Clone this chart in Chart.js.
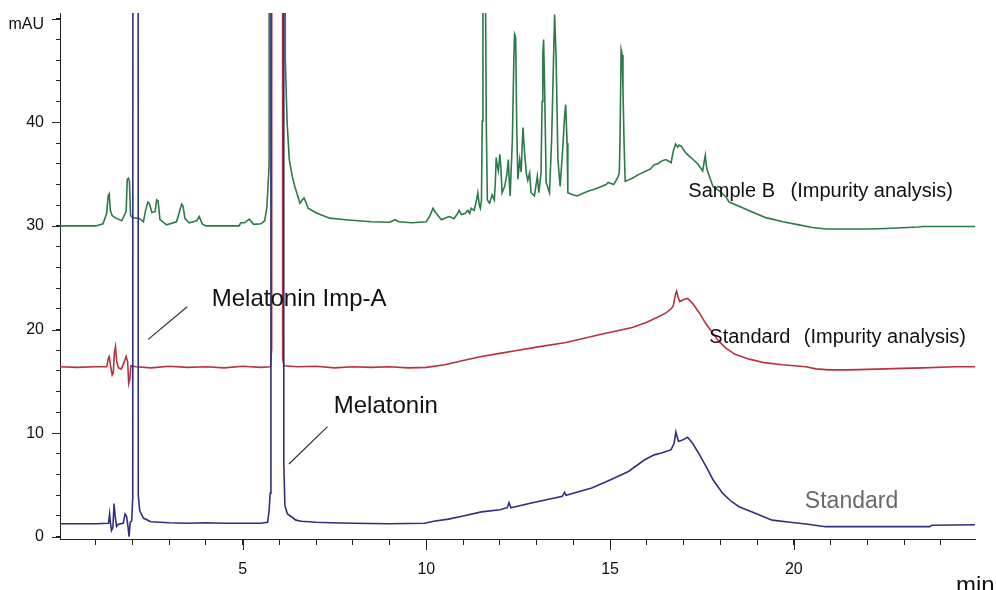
<!DOCTYPE html>
<html><head><meta charset="utf-8">
<script src="https://cdn.jsdelivr.net/npm/chart.js@4"></script>
<style>html,body{margin:0;padding:0;background:#fff;}canvas{display:block;}</style>
</head><body>
<canvas id="c" width="996" height="590" style="width:996px;height:590px"></canvas>
<script>
// ---- Data (retention time in min, signal in mAU) ----
const sampleBTime = [0.03,1.0,1.2,1.3,1.34,1.37,1.40,1.45,1.53,1.71,1.83,1.86,1.89,1.92,1.95,2.0,2.2,2.3,2.36,2.42,2.46,2.53,2.62,2.66,2.70,2.75,2.93,3.2,3.3,3.34,3.38,3.43,3.55,3.75,3.82,3.9,4.0,4.9,4.95,5.05,5.18,5.3,5.5,5.6,5.66,5.72,5.75,6.14,6.16,6.21,6.27,6.35,6.42,6.56,6.62,6.67,6.72,6.78,7.01,7.37,7.8,8.5,9.0,9.15,9.25,9.6,10.0,10.1,10.18,10.25,10.41,10.55,10.63,10.75,10.85,10.89,10.95,11.05,11.13,11.18,11.22,11.3,11.36,11.40,11.44,11.47,11.50,11.52,11.54,11.61,11.63,11.66,11.72,11.79,11.85,11.88,11.9,11.93,11.96,12.0,12.03,12.06,12.13,12.19,12.23,12.26,12.28,12.34,12.38,12.40,12.43,12.46,12.49,12.54,12.58,12.61,12.63,12.67,12.72,12.76,12.81,12.85,12.94,13.02,13.06,13.12,13.15,13.17,13.19,13.22,13.26,13.35,13.41,13.46,13.49,13.53,13.58,13.64,13.71,13.76,13.79,13.83,13.85,13.98,14.1,14.3,14.43,14.53,14.7,14.89,14.95,15.1,15.2,15.25,15.27,15.3,15.33,15.35,15.38,15.41,15.6,15.8,15.98,16.1,16.2,16.3,16.42,16.52,16.66,16.72,16.78,16.84,16.88,16.93,17.07,17.2,17.38,17.52,17.56,17.59,17.62,17.65,17.8,18.0,18.15,18.24,18.51,18.9,19.24,19.7,20.14,20.5,20.87,22.0,22.5,23.4,23.5,24.93];
const sampleBSignal = [30.0,30.0,30.2,31.2,32.9,33.1,31.5,31.0,30.8,30.5,31.4,34.5,34.6,34.3,31.0,30.8,30.7,30.4,31.5,32.3,32.2,31.3,31.4,32.5,32.4,30.6,30.1,30.4,31.6,32.1,31.9,30.7,30.3,30.5,30.9,30.2,30.0,30.0,30.3,30.3,30.65,30.15,30.2,30.5,31.8,35.8,300,300,46.3,40.0,36.4,34.8,33.8,32.2,32.5,32.7,32.3,31.7,31.25,30.75,30.6,30.4,30.35,30.6,30.4,30.3,30.4,31.0,31.7,31.3,30.6,30.8,30.9,30.7,31.2,31.5,31.1,31.2,31.5,31.2,31.7,31.5,32.4,33.2,32.0,31.7,32.5,40.1,52,52,40.0,32.5,32.2,33.0,32.5,34.5,36.6,35.8,35.3,36.9,35.5,33.2,33.8,34.95,36.4,34.0,32.9,38.3,46.0,48.5,48.2,39.3,34.5,36.4,35.2,38.0,39.5,37.2,35.1,34.4,35.1,33.2,32.9,34.8,33.2,35.1,42.0,46.7,48.0,43.0,34.2,33.2,38.4,46.0,50.4,46.3,36.4,33.8,37.4,40.5,41.7,38.0,33.2,33.0,32.9,33.2,33.4,33.5,33.7,34.0,34.2,34.0,34.6,35.1,38.3,47.0,46.5,43.3,38.0,34.3,34.6,35.0,35.3,35.5,35.9,36.0,36.3,36.4,36.1,37.2,37.9,37.6,37.8,37.7,37.0,36.6,36.0,35.3,36.2,36.8,35.8,35.3,33.8,33.3,32.8,32.3,31.9,31.3,30.8,30.4,30.1,29.85,29.7,29.7,29.75,29.9,29.95,29.95];

const stdImpTime = [0.03,0.5,1.0,1.3,1.35,1.37,1.40,1.45,1.48,1.51,1.54,1.57,1.62,1.70,1.78,1.83,1.87,1.90,1.93,1.96,2.1,2.5,3.0,3.5,4.0,4.5,5.0,5.5,5.76,5.79,5.81,6.07,6.09,6.13,6.5,7.0,7.5,8.0,8.5,9.0,9.5,10.0,10.5,11.0,11.5,12.0,12.5,13.0,13.8,14.7,15.6,16.0,16.3,16.52,16.66,16.72,16.78,16.81,16.86,16.9,17.0,17.11,17.25,17.43,17.6,17.79,17.95,18.15,18.4,18.79,19.2,19.69,20.33,20.6,20.96,21.5,22.0,22.95,23.5,24.4,24.93];
const stdImpSignal = [16.4,16.35,16.4,16.4,17.3,17.4,16.6,15.6,15.8,17.8,18.35,17.0,16.3,16.2,16.9,17.4,16.9,14.8,15.2,16.5,16.4,16.3,16.45,16.35,16.4,16.3,16.45,16.35,16.4,18.2,300,300,17.1,16.5,16.4,16.45,16.3,16.4,16.35,16.4,16.3,16.35,16.6,17.0,17.4,17.7,18.0,18.3,18.75,19.5,20.2,20.7,21.2,21.6,22.0,22.3,23.4,23.7,23.0,22.7,22.9,23.0,22.5,21.6,20.6,19.65,18.9,18.2,17.6,17.14,16.8,16.6,16.4,16.2,16.1,16.1,16.15,16.25,16.3,16.4,16.4];

const standardTime = [0.03,1.0,1.35,1.38,1.40,1.43,1.47,1.50,1.53,1.57,1.62,1.75,1.80,1.84,1.88,1.91,1.94,1.98,2.01,2.03,2.14,2.16,2.2,2.3,2.5,3.0,3.5,4.0,4.5,5.0,5.5,5.68,5.72,5.75,5.77,6.10,6.12,6.15,6.22,6.3,6.45,6.6,7.0,7.4,8.0,9.0,9.95,10.2,10.6,11.0,11.5,12.0,12.2,12.25,12.3,12.8,13.3,13.7,13.76,13.8,14.5,15.0,15.5,15.93,16.2,16.42,16.66,16.74,16.79,16.86,16.95,17.11,17.25,17.42,17.61,17.8,18.06,18.3,18.51,19.0,19.41,19.9,20.33,20.87,22.0,23.0,23.7,23.75,24.93];
const standardSignal = [1.25,1.25,1.3,2.2,1.4,0.6,0.9,3.2,2.0,1.0,1.2,1.3,2.2,2.0,1.0,0.0,1.4,1.5,3.8,300,300,4.0,2.5,1.8,1.45,1.35,1.3,1.35,1.3,1.3,1.3,1.4,2.5,4.2,300,300,7.1,3.0,2.2,2.0,1.6,1.5,1.4,1.35,1.3,1.25,1.3,1.5,1.7,2.0,2.4,2.6,2.8,3.3,2.8,3.2,3.6,3.9,4.3,4.0,4.7,5.48,6.3,7.4,7.9,8.1,8.4,9.0,10.1,9.2,9.3,9.6,9.0,8.0,6.8,5.5,4.2,3.4,2.9,2.2,1.6,1.4,1.23,0.97,0.97,0.97,0.97,1.1,1.15];

// leader lines (time, signal)
const impALeaderTime = [2.43, 3.49];
const impALeaderSignal = [19.05, 22.2];
const melLeaderTime = [6.26, 7.31];
const melLeaderSignal = [7.02, 10.62];

const xMajorLabels = [5, 10, 15, 20];
const yMajorLabels = [0, 10, 20, 30, 40];

// ---- Build ----
const pts = (t, v) => t.map((x, i) => ({x, y: v[i]}));
const FONT = "'Liberation Sans', Arial, Helvetica, sans-serif";

const annotations = [
  {text: 'Melatonin Imp-A', x: 4.16, y: 22.3, size: 24, color: '#111'},
  {text: 'Melatonin', x: 7.48, y: 11.98, size: 24, color: '#111'},
  {text: 'Sample B', x: 17.13, y: 32.76, size: 20, color: '#111'},
  {text: '(Impurity analysis)', x: 19.91, y: 32.76, size: 20, color: '#111'},
  {text: 'Standard', x: 17.70, y: 18.67, size: 20, color: '#111'},
  {text: '(Impurity analysis)', x: 20.27, y: 18.67, size: 20, color: '#111'},
  {text: 'Standard', x: 20.30, y: 2.8, size: 23, color: '#6a6a6a'}
];

const extras = {
  id: 'extras',
  afterDraw(chart) {
    const {ctx, chartArea: a, scales: {x, y}} = chart;
    ctx.save();
    ctx.strokeStyle = '#222';
    ctx.lineWidth = 1;
    ctx.beginPath();
    x.ticks.forEach(t => {
      if (xMajorLabels.includes(t.value)) {
        const px = Math.round(x.getPixelForValue(t.value)) + 0.5;
        ctx.moveTo(px, a.bottom); ctx.lineTo(px, a.bottom + 11);
      }
    });
    y.ticks.forEach(t => {
      if (t.value % 10 === 0) {
        const py = Math.round(y.getPixelForValue(t.value)) + 0.5;
        ctx.moveTo(a.left, py); ctx.lineTo(a.left - 8, py);
      }
    });
    ctx.stroke();
    ctx.textBaseline = 'alphabetic';
    ctx.textAlign = 'left';
    annotations.forEach(an => {
      ctx.font = an.size + 'px ' + FONT;
      ctx.fillStyle = an.color;
      ctx.fillText(an.text, x.getPixelForValue(an.x), y.getPixelForValue(an.y));
    });
    // axis unit labels
    ctx.fillStyle = '#111';
    ctx.font = '16px ' + FONT;
    ctx.textAlign = 'right';
    ctx.textBaseline = 'middle';
    ctx.fillText('mAU', a.left - 16, a.top + 12);
    ctx.font = '24px ' + FONT;
    ctx.textAlign = 'left';
    ctx.textBaseline = 'alphabetic';
    ctx.fillText('min', a.right - 19, a.bottom + 54);
    ctx.restore();
  }
};

new Chart(document.getElementById('c'), {
  type: 'line',
  data: {
    datasets: [
      {label: 'Standard', data: pts(standardTime, standardSignal), borderColor: '#2f2f82', borderWidth: 1.6},
      {label: 'Standard (Impurity analysis)', data: pts(stdImpTime, stdImpSignal), borderColor: '#b8323f', borderWidth: 1.6},
      {label: 'Sample B (Impurity analysis)', data: pts(sampleBTime, sampleBSignal), borderColor: '#2b7a47', borderWidth: 1.6},
      {label: 'Imp-A leader', data: pts(impALeaderTime, impALeaderSignal), borderColor: '#333', borderWidth: 1.2},
      {label: 'Melatonin leader', data: pts(melLeaderTime, melLeaderSignal), borderColor: '#333', borderWidth: 1.2}
    ]
  },
  options: {
    responsive: false,
    animation: false,
    devicePixelRatio: 1,
    layout: {padding: {top: 13, right: 21, left: 0, bottom: 0}},
    plugins: {legend: {display: false}, tooltip: {enabled: false}},
    elements: {point: {radius: 0}, line: {tension: 0, fill: false}},
    scales: {
      x: {
        type: 'linear', min: 0.03, max: 24.93,
        afterFit(s) { s.height = 51; s.paddingLeft = 0; s.paddingRight = 0; },
        border: {color: '#222', width: 1},
        grid: {display: true, drawOnChartArea: false, drawTicks: true, tickLength: 6, tickColor: '#222', tickWidth: 1},
        ticks: {
          stepSize: 1, includeBounds: false, autoSkip: false, maxRotation: 0, minRotation: 0,
          padding: 15, color: '#111', font: {family: FONT, size: 16},
          callback: v => xMajorLabels.includes(v) ? String(v) : ''
        }
      },
      y: {
        type: 'linear', min: -0.22, max: 50.55,
        afterFit(s) { s.width = 60; s.paddingTop = 0; s.paddingBottom = 0; },
        border: {color: '#222', width: 1},
        grid: {display: true, drawOnChartArea: false, drawTicks: true, tickLength: 4, tickColor: '#222', tickWidth: 1},
        ticks: {
          stepSize: 2, includeBounds: false, autoSkip: false,
          padding: 12, color: '#111', font: {family: FONT, size: 16},
          callback: v => yMajorLabels.includes(v) ? String(v) : ''
        }
      }
    }
  },
  plugins: [extras]
});
</script>
</body></html>
